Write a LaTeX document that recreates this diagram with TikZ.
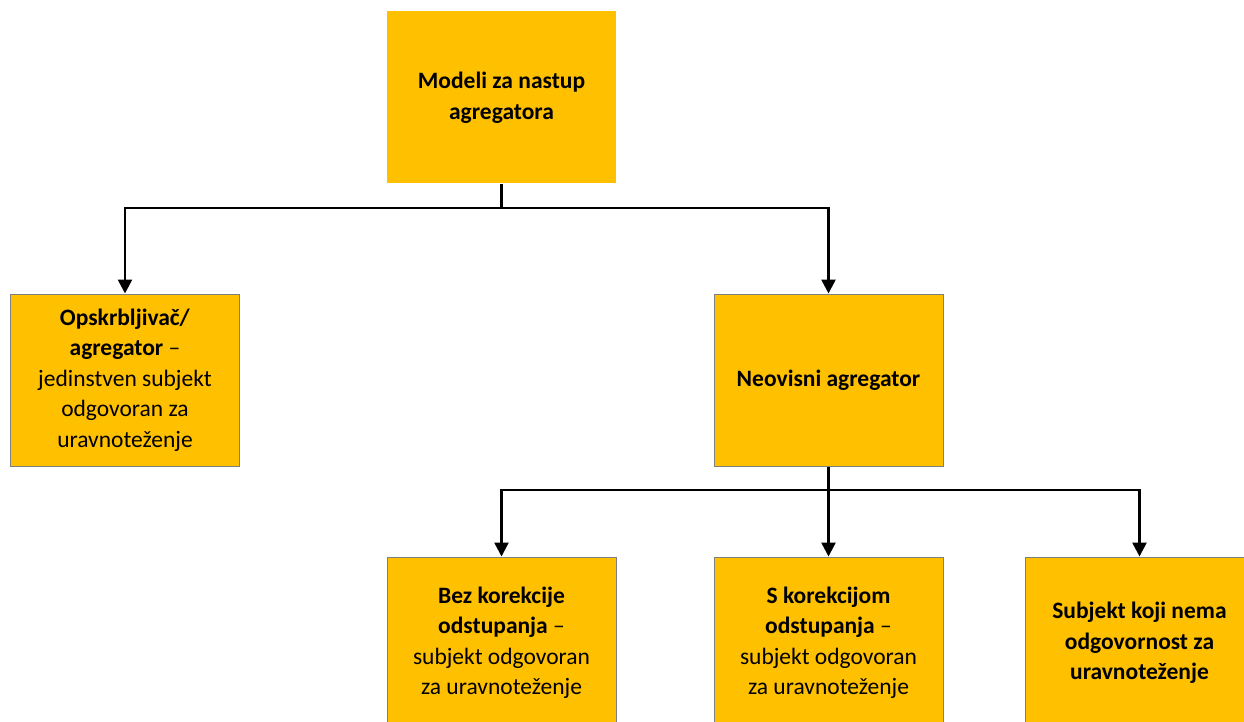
\documentclass[tikz,border=0pt]{standalone}
\usepackage{fontspec}
\setmainfont{Carlito}
\usetikzlibrary{arrows.meta}
\definecolor{boxfill}{HTML}{FFC000}
\definecolor{boxline}{HTML}{7F7F7F}
\begin{document}
\begin{tikzpicture}[x=1pt,y=-1pt,
  box/.style={rectangle, fill=boxfill, draw=boxline, line width=1pt, minimum width=229pt, minimum height=172pt, inner sep=0pt, align=center, font=\fontsize{23.5}{30.5}\selectfont},
  topbox/.style={box, draw=none},
  conn/.style={line width=2.6pt, line join=miter},
  arr/.style={conn, -{Triangle[width=14pt,length=14pt]}}]
\useasboundingbox (0,0) rectangle (1244,722);
\node[topbox] (top) at (501.5,97.5) {\textbf{Modeli za nastup}\\\textbf{agregatora}};
\node[box] (left) at (125,380) {\textbf{Opskrbljivač/}\\\textbf{agregator} –\\jedinstven subjekt\\odgovoran za\\uravnoteženje};
\node[box] (neo) at (828.5,380) {\textbf{Neovisni agregator}};
\node[box] (b1) at (501.5,643) {\textbf{Bez korekcije}\\\textbf{odstupanja} –\\subjekt odgovoran\\za uravnoteženje};
\node[box] (b2) at (828.5,643) {\textbf{S korekcijom}\\\textbf{odstupanja} –\\subjekt odgovoran\\za uravnoteženje};
\node[box] (b3) at (1139.5,643) {\textbf{Subjekt koji nema}\\\textbf{odgovornost za}\\\textbf{uravnoteženje}};
\coordinate (j1) at (501.5,208);
\coordinate (j2) at (828.5,490);
\draw[conn] (top.south) -- (j1);
\draw[arr] (j1) -| (left.north);
\draw[arr] (j1) -| (neo.north);
\draw[conn] (neo.south) -- (j2);
\draw[arr] (j2) -| (b1.north);
\draw[arr] (j2) -- (b2.north);
\draw[arr] (j2) -| (b3.north);
\end{tikzpicture}
\end{document}
